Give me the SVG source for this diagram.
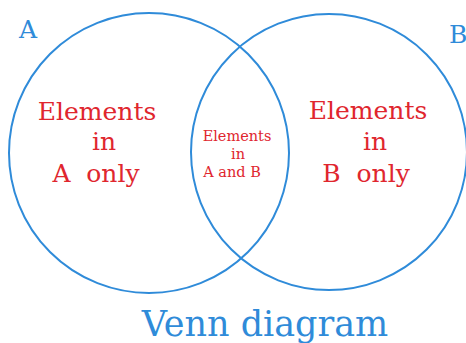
<svg xmlns="http://www.w3.org/2000/svg" width="466" height="343" viewBox="0 0 466 343">
<style>
.c{fill:none;stroke:#2f8bd9;stroke-width:2}
.lbl{font-family:"DejaVu Serif","Liberation Serif",serif;fill:#2f8bd9}
.r{font-family:"DejaVu Serif","Liberation Serif",serif;fill:#e0262e;text-anchor:middle}
.big{font-size:25px}
.sm{font-size:14.5px}
</style>
<rect width="466" height="343" fill="#ffffff"/>
<g id="connectors"></g>
<g id="setA">
<circle class="c" cx="149" cy="153" r="140"/>
<text class="lbl" x="19" y="38" font-size="25">A</text>
</g>
<g id="setB">
<circle class="c" cx="329" cy="152" r="138"/>
<text class="lbl" x="449" y="43" font-size="25">B</text>
</g>
<g id="onlyA">
<text class="r big" x="97" y="120">Elements</text>
<text class="r big" x="104" y="150">in</text>
<text class="r big" x="96" y="182" xml:space="preserve">A  only</text>
</g>
<g id="onlyB">
<text class="r big" x="368" y="119">Elements</text>
<text class="r big" x="375" y="150">in</text>
<text class="r big" x="366" y="182" xml:space="preserve">B  only</text>
</g>
<g id="both">
<text class="r sm" x="237" y="141">Elements</text>
<text class="r sm" x="238" y="159">in</text>
<text class="r sm" x="232" y="177">A and B</text>
</g>
<g id="title">
<text class="lbl" x="265" y="336" font-size="35" text-anchor="middle">Venn diagram</text>
</g>
</svg>
